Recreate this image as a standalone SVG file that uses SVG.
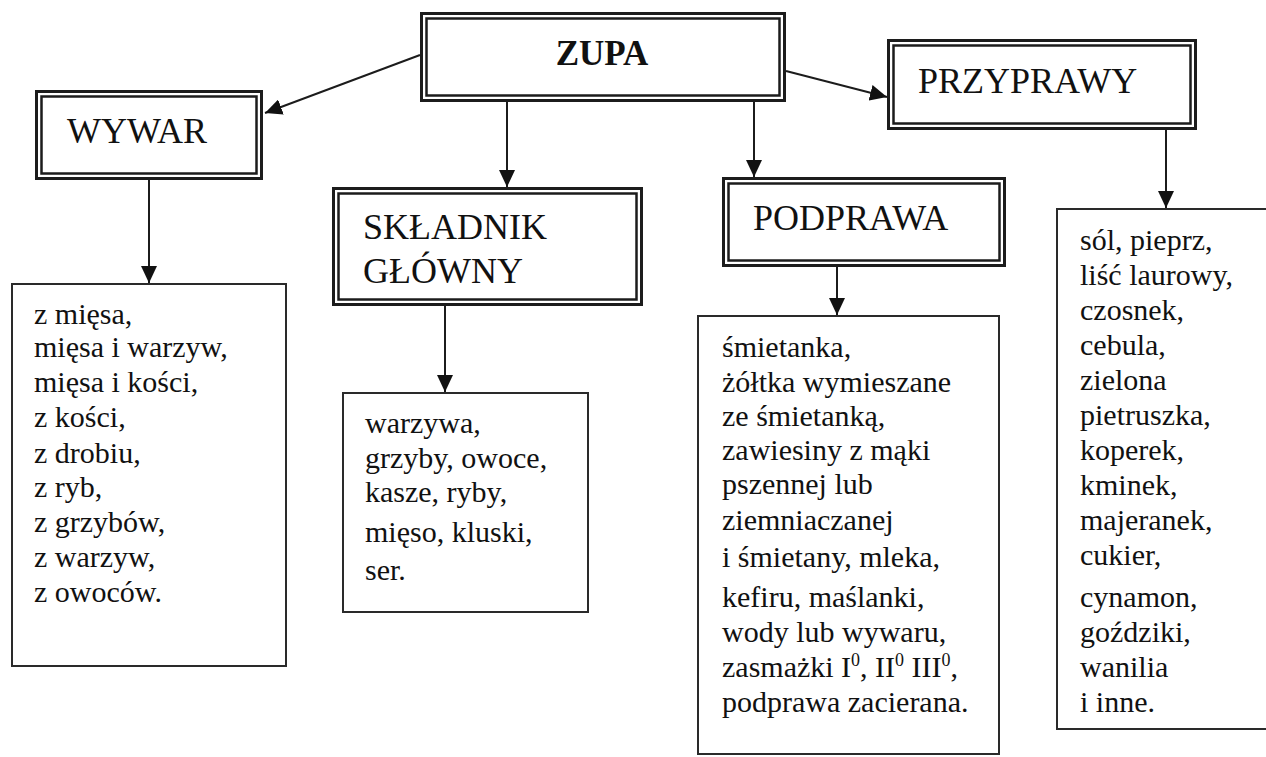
<svg xmlns="http://www.w3.org/2000/svg" width="1266" height="757" viewBox="0 0 1266 757">
  <style>
    .bg { fill: #ffffff; }
    .outer { fill: #ffffff; stroke: #1c1c1c; stroke-width: 3; }
    .inner { fill: #ffffff; stroke: #1c1c1c; stroke-width: 2.5; }
    .list { fill: #ffffff; stroke: #2a2a2a; stroke-width: 2; }
    .conn { stroke: #1c1c1c; stroke-width: 2; fill: none; marker-end: url(#arrow); }
    .head { font-family: "Liberation Serif", "Times New Roman", serif; font-size: 36px; fill: #111111; }
    .title { font-family: "Liberation Serif", "Times New Roman", serif; font-size: 35px; font-weight: bold; fill: #111111; }
    .body { font-family: "Liberation Serif", "Times New Roman", serif; font-size: 30px; fill: #111111; }
    .sup { font-size: 18px; }
  </style>
  <defs>
    <marker id="arrow" markerUnits="userSpaceOnUse" markerWidth="17" markerHeight="16" refX="17" refY="8" orient="auto">
      <path d="M0,0 L17,8 L0,16 Z" fill="#111111"/>
    </marker>
  </defs>
  <rect class="bg" x="0" y="0" width="1266" height="757"/>

  <g id="connectors">
    <line class="conn" x1="420" y1="55" x2="265" y2="113"/>
    <line class="conn" x1="786" y1="71" x2="887" y2="97"/>
    <line class="conn" x1="507" y1="102" x2="507" y2="187"/>
    <line class="conn" x1="754" y1="102" x2="754" y2="177"/>
    <line class="conn" x1="149" y1="180" x2="149" y2="283"/>
    <line class="conn" x1="445" y1="306" x2="445" y2="392"/>
    <line class="conn" x1="837" y1="267" x2="837" y2="315"/>
    <line class="conn" x1="1166" y1="130" x2="1166" y2="208"/>
  </g>

  <g id="zupa">
    <rect class="outer" x="421.5" y="13.5" width="363" height="87"/>
    <rect class="inner" x="426.5" y="18.5" width="353" height="77"/>
    <text class="title" x="602" y="65" text-anchor="middle">ZUPA</text>
  </g>

  <g id="wywar">
    <rect class="outer" x="36.5" y="91.5" width="225" height="87"/>
    <rect class="inner" x="41.5" y="96.5" width="215" height="77"/>
    <text class="head" x="67" y="143">WYWAR</text>
  </g>

  <g id="skladnik">
    <rect class="outer" x="333.5" y="188.5" width="308" height="116"/>
    <rect class="inner" x="338.5" y="193.5" width="298" height="106"/>
    <text class="head" x="363" y="239">SKŁADNIK</text>
    <text class="head" x="363" y="283">GŁÓWNY</text>
  </g>

  <g id="podprawa">
    <rect class="outer" x="723.5" y="178.5" width="281" height="87"/>
    <rect class="inner" x="728.5" y="183.5" width="271" height="77"/>
    <text class="head" x="753" y="230">PODPRAWA</text>
  </g>

  <g id="przyprawy">
    <rect class="outer" x="888.5" y="40.5" width="307" height="88"/>
    <rect class="inner" x="893.5" y="45.5" width="297" height="78"/>
    <text class="head" x="918" y="93">PRZYPRAWY</text>
  </g>

  <g id="wywar-list">
    <rect class="list" x="12" y="284" width="274" height="382"/>
    <text class="body" x="34" y="324">z mięsa,</text>
    <text class="body" x="34" y="357">mięsa i warzyw,</text>
    <text class="body" x="34" y="392">mięsa i kości,</text>
    <text class="body" x="34" y="427">z kości,</text>
    <text class="body" x="34" y="463">z drobiu,</text>
    <text class="body" x="34" y="497">z ryb,</text>
    <text class="body" x="34" y="532">z grzybów,</text>
    <text class="body" x="34" y="567">z warzyw,</text>
    <text class="body" x="34" y="602">z owoców.</text>
  </g>

  <g id="skladnik-list">
    <rect class="list" x="343" y="393" width="245" height="219"/>
    <text class="body" x="365" y="433">warzywa,</text>
    <text class="body" x="365" y="468">grzyby, owoce,</text>
    <text class="body" x="365" y="502">kasze, ryby,</text>
    <text class="body" x="365" y="542">mięso, kluski,</text>
    <text class="body" x="365" y="580">ser.</text>
  </g>

  <g id="podprawa-list">
    <rect class="list" x="698" y="316" width="301" height="438"/>
    <text class="body" x="722" y="357">śmietanka,</text>
    <text class="body" x="722" y="392">żółtka wymieszane</text>
    <text class="body" x="722" y="426">ze śmietanką,</text>
    <text class="body" x="722" y="460">zawiesiny z mąki</text>
    <text class="body" x="722" y="494">pszennej lub</text>
    <text class="body" x="722" y="530">ziemniaczanej</text>
    <text class="body" x="722" y="567">i śmietany, mleka,</text>
    <text class="body" x="722" y="607">kefiru, maślanki,</text>
    <text class="body" x="722" y="642">wody lub wywaru,</text>
    <text class="body" x="722" y="677">zasmażki I<tspan class="sup" dy="-11">0</tspan><tspan dy="11">, II</tspan><tspan class="sup" dy="-11">0</tspan><tspan dy="11"> III</tspan><tspan class="sup" dy="-11">0</tspan><tspan dy="11">,</tspan></text>
    <text class="body" x="722" y="712">podprawa zacierana.</text>
  </g>

  <g id="przyprawy-list">
    <rect class="list" x="1057" y="209" width="215" height="520"/>
    <text class="body" x="1080" y="250">sól, pieprz,</text>
    <text class="body" x="1080" y="285">liść laurowy,</text>
    <text class="body" x="1080" y="320">czosnek,</text>
    <text class="body" x="1080" y="355">cebula,</text>
    <text class="body" x="1080" y="390">zielona</text>
    <text class="body" x="1080" y="425">pietruszka,</text>
    <text class="body" x="1080" y="460">koperek,</text>
    <text class="body" x="1080" y="495">kminek,</text>
    <text class="body" x="1080" y="530">majeranek,</text>
    <text class="body" x="1080" y="565">cukier,</text>
    <text class="body" x="1080" y="607">cynamon,</text>
    <text class="body" x="1080" y="642">goździki,</text>
    <text class="body" x="1080" y="677">wanilia</text>
    <text class="body" x="1080" y="712">i inne.</text>
  </g>
</svg>
